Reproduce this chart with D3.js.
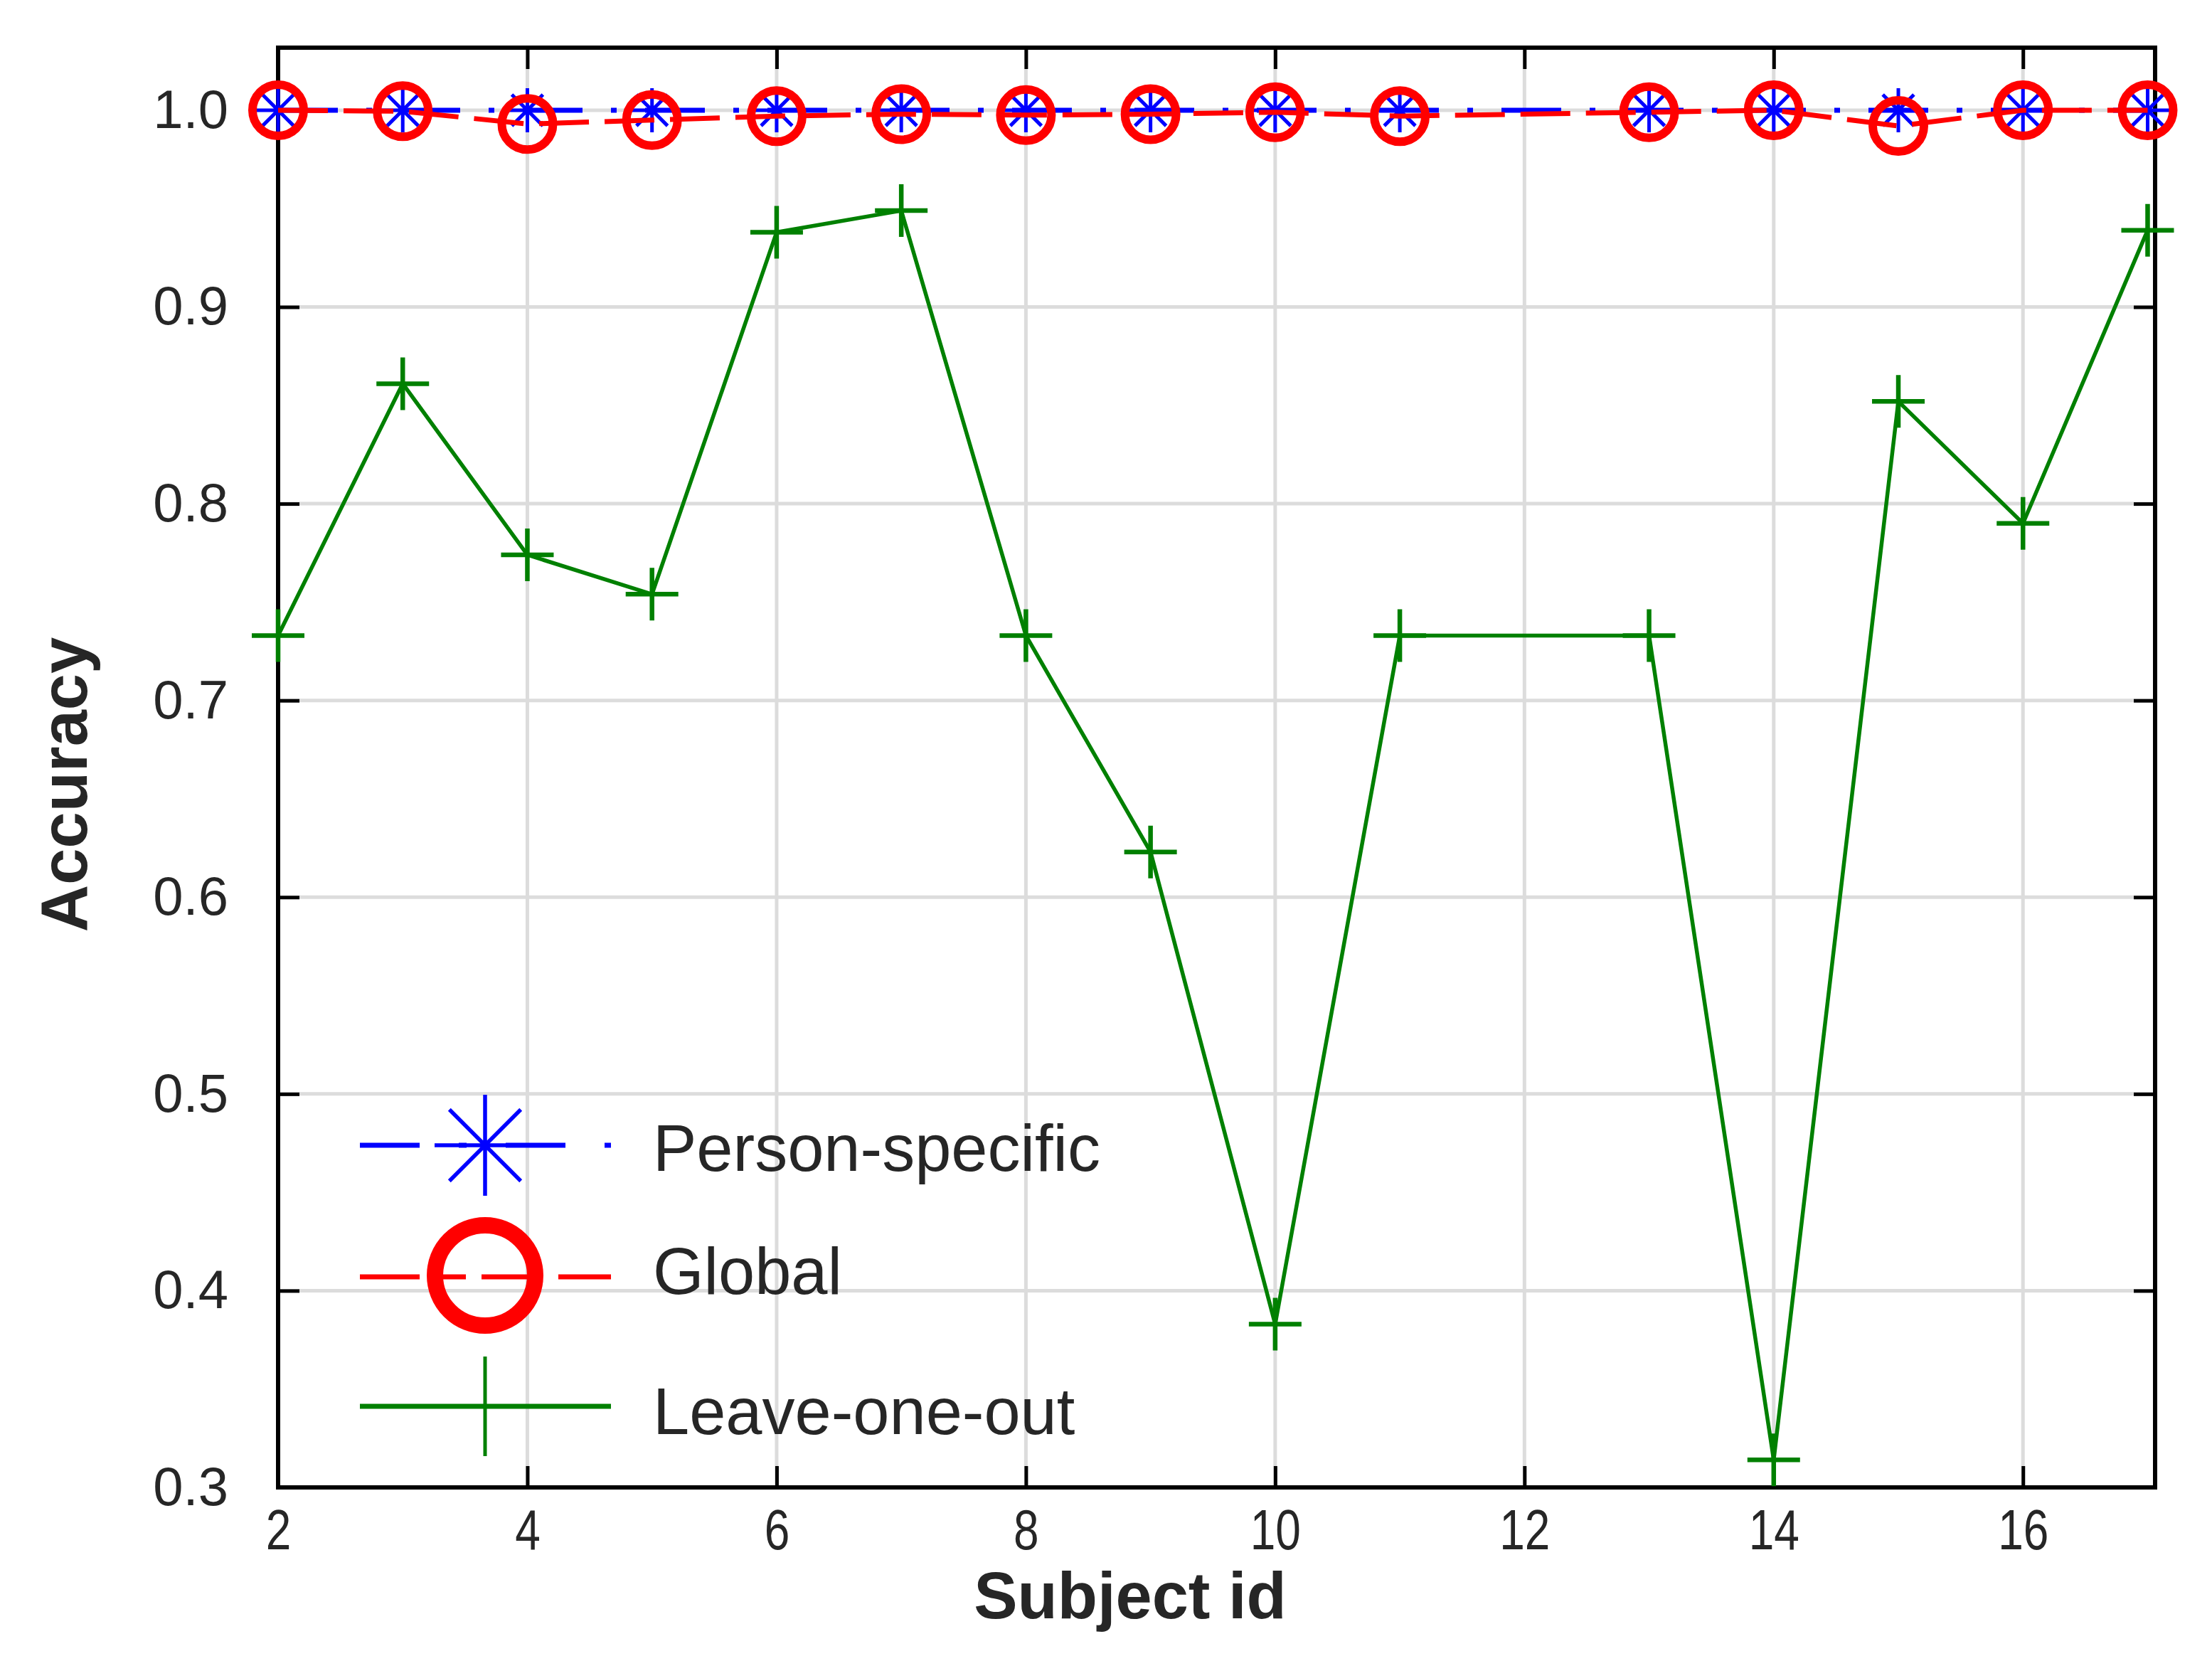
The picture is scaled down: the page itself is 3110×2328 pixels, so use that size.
<!DOCTYPE html>
<html><head><meta charset="utf-8">
<script src="https://cdn.jsdelivr.net/npm/d3@7"></script>
<style>body{margin:0;background:#fff}</style>
</head><body>
<svg id="chart" width="3110" height="2328"></svg>
<script>
// ---- data ----
const subjects      = [2, 3, 4, 5, 6, 7, 8, 9, 10, 11, 13, 14, 15, 16, 17];
const personSpecific = [1.0, 1.0, 1.0, 1.0, 1.0, 1.0, 1.0, 1.0, 1.0, 1.0, 1.0, 1.0, 1.0, 1.0, 1.0];
const globalAcc     = [1.0, 0.9995, 0.993, 0.995, 0.997, 0.998, 0.9975, 0.998, 0.999, 0.997, 0.999, 1.0, 0.992, 1.0, 1.0];
const leaveOneOut   = [0.733, 0.861, 0.774, 0.754, 0.938, 0.949, 0.733, 0.623, 0.383, 0.733, 0.733, 0.314, 0.852, 0.790, 0.939];
const seriesNames   = ["Person-specific", "Global", "Leave-one-out"];
const xTicks = [2, 4, 6, 8, 10, 12, 14, 16];
const yTicks = [0.3, 0.4, 0.5, 0.6, 0.7, 0.8, 0.9, 1.0];
const xLabel = "Subject id";
const yLabel = "Accuracy";

// ---- layout ----
const L = 391, R = 3030, T = 67, B = 2091;
const svg = d3.select("#chart");
const x = d3.scaleLinear().domain([2, 17.06]).range([L, R]);
const y = d3.scaleLinear().domain([0.3, 1.0318]).range([B, T]);
const textCol = "#262626";
const font = "'Liberation Sans', Arial, Helvetica, sans-serif";

// grid
const grid = svg.append("g").attr("stroke", "#dcdcdc").attr("stroke-width", 5);
grid.selectAll(".gx").data(xTicks.filter(d => d !== 2)).join("line")
  .attr("x1", d => x(d)).attr("x2", d => x(d)).attr("y1", T).attr("y2", B);
grid.selectAll(".gy").data(yTicks.filter(d => d !== 0.3)).join("line")
  .attr("x1", L).attr("x2", R).attr("y1", d => y(d)).attr("y2", d => y(d));

// axes
function styleAxis(g) {
  g.select(".domain").remove();
  g.selectAll(".tick line").attr("stroke", "#000").attr("stroke-width", 5);
  g.selectAll(".tick text").attr("fill", textCol).attr("font-family", font);
}
const xAxis = svg.append("g").attr("transform", `translate(0,${B})`)
  .call(d3.axisBottom(x).tickValues(xTicks).tickSizeInner(-30).tickSizeOuter(0).tickPadding(30).tickFormat(d3.format("d")));
styleAxis(xAxis);
xAxis.selectAll(".tick text").attr("font-size", 80).attr("transform", "scale(0.8,1)");

const xAxisTop = svg.append("g").attr("transform", `translate(0,${T})`)
  .call(d3.axisTop(x).tickValues(xTicks).tickSizeInner(-30).tickSizeOuter(0).tickFormat(""));
styleAxis(xAxisTop);

const yAxis = svg.append("g").attr("transform", `translate(${L},0)`)
  .call(d3.axisLeft(y).tickValues(yTicks).tickSizeInner(-30).tickSizeOuter(0).tickPadding(70).tickFormat(d3.format(".1f")));
styleAxis(yAxis);
yAxis.selectAll(".tick text").attr("font-size", 76);

const yAxisRight = svg.append("g").attr("transform", `translate(${R},0)`)
  .call(d3.axisRight(y).tickValues(yTicks).tickSizeInner(-30).tickSizeOuter(0).tickFormat(""));
styleAxis(yAxisRight);

// box
svg.append("rect").attr("x", L).attr("y", T).attr("width", R - L).attr("height", B - T)
  .attr("fill", "none").attr("stroke", "#000").attr("stroke-width", 6);

// axis labels
svg.append("text").attr("x", 1589).attr("y", 2275).attr("text-anchor", "middle")
  .attr("font-family", font).attr("font-weight", "bold").attr("font-size", 92).attr("fill", textCol).text(xLabel);
svg.append("text").attr("transform", `translate(122,${(T + B) / 2 + 24}) rotate(-90)`).attr("text-anchor", "middle")
  .attr("font-family", font).attr("font-weight", "bold").attr("font-size", 92).attr("fill", textCol).text(yLabel);

// marker shapes
const asterisk = r => { const d = r * Math.SQRT1_2; return `M${-r},0H${r}M0,${-r}V${r}M${-d},${-d}L${d},${d}M${-d},${d}L${d},${-d}`; };
const plus = r => `M${-r},0H${r}M0,${-r}V${r}`;

const line = vals => d3.line().x((d, i) => x(subjects[i])).y(d => y(d))(vals);

// Person-specific (blue)
svg.append("path").attr("d", line(personSpecific)).attr("fill", "none")
  .attr("stroke", "#0000ff").attr("stroke-width", 7).attr("stroke-dasharray", "84,40,8,40");
svg.append("g").selectAll("path").data(personSpecific).join("path")
  .attr("transform", (d, i) => `translate(${x(subjects[i])},${y(d)})`)
  .attr("d", asterisk(31)).attr("fill", "none").attr("stroke", "#0000ff").attr("stroke-width", 5);

// Global (red)
svg.append("path").attr("d", line(globalAcc)).attr("fill", "none")
  .attr("stroke", "#ff0000").attr("stroke-width", 7).attr("stroke-dasharray", "70,22");
svg.append("g").selectAll("circle").data(globalAcc).join("circle")
  .attr("cx", (d, i) => x(subjects[i])).attr("cy", d => y(d)).attr("r", 36)
  .attr("fill", "none").attr("stroke", "#ff0000").attr("stroke-width", 12);

// Leave-one-out (green)
svg.append("path").attr("d", line(leaveOneOut)).attr("fill", "none")
  .attr("stroke", "#008000").attr("stroke-width", 5.5).attr("stroke-linejoin", "miter");
svg.append("g").selectAll("path").data(leaveOneOut).join("path")
  .attr("transform", (d, i) => `translate(${x(subjects[i])},${y(d)})`)
  .attr("d", plus(37)).attr("fill", "none").attr("stroke", "#008000").attr("stroke-width", 6.5);

// legend
const lx1 = 506, lx2 = 859, lmx = 682;
const rows = [1610, 1795, 1977];
const textBase = [1646, 1819, 2016];
const lg = svg.append("g");
// blue
lg.append("line").attr("x1", lx1).attr("x2", lx2).attr("y1", rows[0]).attr("y2", rows[0])
  .attr("stroke", "#0000ff").attr("stroke-width", 7).attr("stroke-dasharray", "84,55,11,55");
lg.append("path").attr("transform", `translate(${lmx},${rows[0]})`).attr("d", asterisk(71))
  .attr("fill", "none").attr("stroke", "#0000ff").attr("stroke-width", 5.5);
// red
lg.append("line").attr("x1", lx1).attr("x2", lx2).attr("y1", rows[1]).attr("y2", rows[1])
  .attr("stroke", "#ff0000").attr("stroke-width", 7).attr("stroke-dasharray", "84,18,47,22,86,22,76");
lg.append("circle").attr("cx", lmx).attr("cy", rows[1] - 2).attr("r", 70.5)
  .attr("fill", "none").attr("stroke", "#ff0000").attr("stroke-width", 23);
// green
lg.append("line").attr("x1", lx1).attr("x2", lx2).attr("y1", rows[2]).attr("y2", rows[2])
  .attr("stroke", "#008000").attr("stroke-width", 7);
lg.append("path").attr("transform", `translate(${lmx},${rows[2]})`).attr("d", plus(70))
  .attr("fill", "none").attr("stroke", "#008000").attr("stroke-width", 5);
lg.selectAll("text").data(seriesNames).join("text")
  .attr("x", 918).attr("y", (d, i) => textBase[i])
  .attr("font-family", font).attr("font-size", 92).attr("fill", textCol).text(d => d);
</script>
</body></html>
